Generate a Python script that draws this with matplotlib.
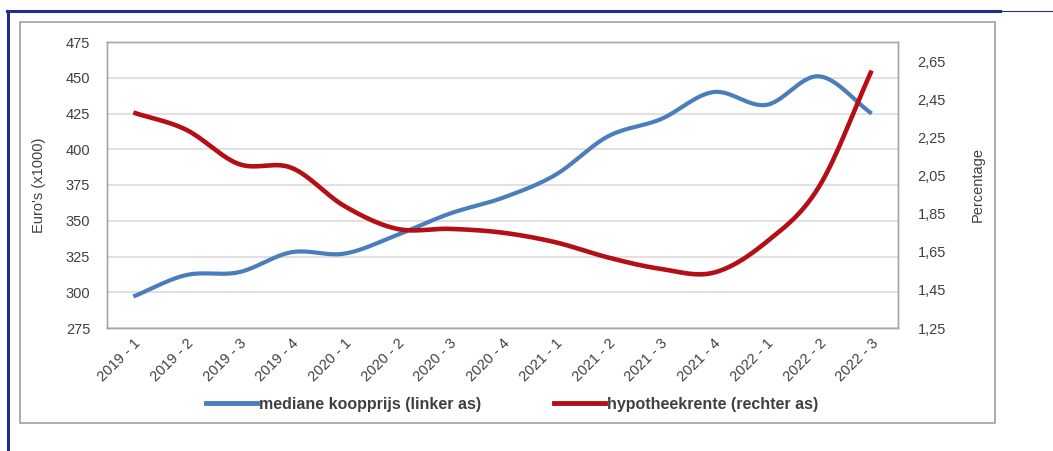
import numpy as np
import matplotlib
matplotlib.use("Agg")
from matplotlib import pyplot as plt
from matplotlib.lines import Line2D
from matplotlib.patches import Rectangle

plt.rcParams['font.family'] = ['Liberation Sans Narrow', 'Liberation Sans', 'DejaVu Sans']

quarters = ["2019 - 1", "2019 - 2", "2019 - 3", "2019 - 4",
            "2020 - 1", "2020 - 2", "2020 - 3", "2020 - 4",
            "2021 - 1", "2021 - 2", "2021 - 3", "2021 - 4",
            "2022 - 1", "2022 - 2", "2022 - 3"]
koopprijs = [297, 312, 314, 328, 327, 340, 355, 366, 382, 409, 421, 440, 431, 451, 425]
rente = [2.38, 2.29, 2.11, 2.09, 1.89, 1.77, 1.77, 1.75, 1.70, 1.62, 1.56, 1.54, 1.70, 1.99, 2.60]

left_ticks = [275, 300, 325, 350, 375, 400, 425, 450, 475]
right_ticks = [1.25, 1.45, 1.65, 1.85, 2.05, 2.25, 2.45, 2.65]
right_labels = ["1,25", "1,45", "1,65", "1,85", "2,05", "2,25", "2,45", "2,65"]

label_blue = "mediane koopprijs (linker as)"
label_red = "hypotheekrente (rechter as)"


def smooth(x, y, n=30):
    # catmull-rom, roughly what Excel does for "smoothed line"
    x = np.asarray(x, float)
    y = np.asarray(y, float)
    px = np.concatenate([[2 * x[0] - x[1]], x, [2 * x[-1] - x[-2]]])
    py = np.concatenate([[2 * y[0] - y[1]], y, [2 * y[-1] - y[-2]]])
    xs, ys = [], []
    t = np.linspace(0, 1, n, endpoint=False)
    for i in range(1, len(px) - 2):
        for p, out in ((px, xs), (py, ys)):
            p0, p1, p2, p3 = p[i - 1], p[i], p[i + 1], p[i + 2]
            out.extend(0.5 * (2 * p1 + (-p0 + p2) * t
                              + (2 * p0 - 5 * p1 + 4 * p2 - p3) * t ** 2
                              + (-p0 + 3 * p1 - 3 * p2 + p3) * t ** 3))
    xs.append(x[-1])
    ys.append(y[-1])
    return np.array(xs), np.array(ys)


W, H = 1053, 451
fig = plt.figure(figsize=(W / 100, H / 100), dpi=100)
fig.patch.set_facecolor("white")

# screenshot frame
navy = "#1f2f8a"
fig.add_artist(Line2D([8 / W, 8 / W], [0, 1 - 11 / H], color=navy, lw=2.2))
fig.add_artist(Line2D([7 / W, 1000 / W], [1 - 11 / H, 1 - 11 / H], color=navy, lw=2.2))
fig.add_artist(Line2D([1000 / W, 1], [1 - 11 / H, 1 - 11 / H], color=navy, lw=0.8))
fig.add_artist(Rectangle((20 / W, 1 - 423 / H), 975 / W, 401 / H, fill=False,
                         ec="#a0a0a0", lw=1.2))

ax = fig.add_axes([107 / W, 1 - 328 / H, 791 / W, 286 / H])
ax2 = ax.twinx()

x = np.arange(len(quarters))
sx, sy = smooth(x, koopprijs)
ax.plot(sx, sy, color="#4a7ebb", lw=3, solid_capstyle="butt", zorder=3)
rx, ry = smooth(x, rente)
ax2.plot(rx, ry, color="#b40f14", lw=3.3, solid_capstyle="butt", zorder=3)

ax.set_xlim(-0.5, len(quarters) - 0.5)
ax.set_ylim(275, 475)
ax2.set_ylim(1.25, 2.75)

ax.set_yticks(left_ticks)
ax.set_yticklabels([str(v) for v in left_ticks])
ax2.set_yticks(right_ticks)
ax2.set_yticklabels(right_labels)
ax.grid(axis="y", color="#dcdcdc", lw=1.2)
ax.set_axisbelow(True)

ax.set_xticks(x)
ax.set_xticklabels(quarters, rotation=45, ha="right", va="top",
                   rotation_mode="anchor")

txt = "#404040"
for a in (ax, ax2):
    for s in a.spines.values():
        s.set_color("#a6a6a6")
        s.set_linewidth(1.0)
    a.tick_params(length=0, colors=txt, labelsize=10.5)
ax.tick_params(axis="y", pad=12)
ax2.tick_params(axis="y", pad=14)
ax.tick_params(axis="x", pad=6)

ax.set_ylabel("Euro's (x1000)", color=txt, fontsize=10.5, labelpad=14,
              family=['Liberation Sans', 'DejaVu Sans'])
ax2.set_ylabel("Percentage", color=txt, fontsize=10.5, labelpad=18,
               family=['Liberation Sans', 'DejaVu Sans'])

handles = [Line2D([], [], color="#4a7ebb", lw=3.5),
           Line2D([], [], color="#b40f14", lw=3.5)]
fig.legend(handles, [label_blue, label_red], loc="center",
           bbox_to_anchor=(512 / W, 1 - 404 / H), ncol=2, frameon=False,
           handlelength=3.2, handletextpad=0.1, columnspacing=4.6,
           prop={"size": 11.5, "weight": "bold"}, labelcolor=txt)

fig.savefig("out.png", dpi=100)
